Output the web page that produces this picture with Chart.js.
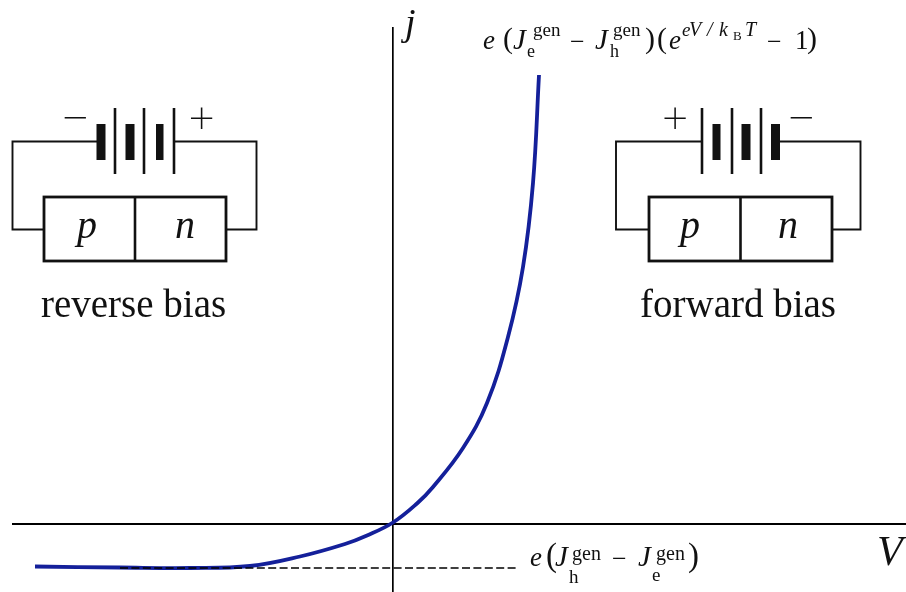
<!DOCTYPE html>
<html>
<head>
<meta charset="utf-8">
<style>html,body{margin:0;padding:0;background:#fff;overflow:hidden}canvas{display:block}</style>
<script src="https://cdn.jsdelivr.net/npm/chart.js@4"></script>
</head>
<body>
<canvas id="c" width="906" height="592"></canvas>
<script>
const curveV = [-3.58,-2.73,-2.03,-1.43,-0.93,-0.48,-0.26,0,0.24,0.40,0.70,0.94,1.15,1.30,1.40,1.46];
const curveJ = [-0.425,-0.435,-0.44,-0.42,-0.325,-0.20,-0.115,0.015,0.205,0.37,0.76,1.21,1.87,2.57,3.41,4.49];
const satV = [-2.73,1.25];
const satJ = [-0.44,-0.44];
const xRange = [-3.80,5.13];
const yRange = [-0.68,4.96];

const SERIF='"Liberation Serif"';
const diagram = {
  id:'diagram',
  afterDatasetsDraw(chart){
    const g=chart.ctx;
    g.save();
    g.fillStyle='#111'; g.strokeStyle='#111'; g.textBaseline='alphabetic'; g.textAlign='left';
    const T=(s,x,y,size,it)=>{g.font=(it?'italic ':'')+size+'px '+SERIF;g.fillText(s,x,y);};
    const L=(pts,w)=>{g.lineWidth=w;g.beginPath();pts.forEach((p,i)=>i?g.lineTo(p[0],p[1]):g.moveTo(p[0],p[1]));g.stroke();};
    const R=(x0,x1)=>g.fillRect(x0,124,x1-x0,36);
    const light=(s,cx,y)=>{g.font='200 46px "Noto Sans"';g.textAlign='center';g.fillText(s,cx,y);g.textAlign='left';};

    // reverse-bias diagram
    L([[97,141.5],[12.5,141.5],[12.5,229.5],[44,229.5]],1.9);
    L([[175,141.5],[256.5,141.5],[256.5,229.5],[226,229.5]],1.9);
    [115,144,174].forEach(x=>L([[x,108],[x,174]],2.6));
    R(96.5,105.5);R(125.5,134.5);R(156,163.5);
    g.lineWidth=2.8;g.strokeRect(44,197,182,64);L([[135,197],[135,261]],2.6);
    T('p',77,238,40,true);T('n',175,238,40,true);
    light('\u2212',75,134);light('+',201.5,135);
    T('reverse bias',41,317,39,false);

    // forward-bias diagram
    L([[702,141.5],[616,141.5],[616,229.5],[649,229.5]],1.9);
    L([[780,141.5],[860.5,141.5],[860.5,229.5],[832,229.5]],1.9);
    [702,732,761].forEach(x=>L([[x,108],[x,174]],2.6));
    R(712.5,720.5);R(741.5,750.5);R(771,780);
    g.lineWidth=2.8;g.strokeRect(649,197,183,64);L([[740.5,197],[740.5,261]],2.6);
    T('p',680,238,40,true);T('n',778,238,40,true);
    light('+',675,135);light('\u2212',801,134);
    T('forward bias',640,317,39,false);

    // axis names
    T('j',405,35,38,true);
    T('V',877,565,42,true);

    // top formula
    T('e',483,49,27,true);T('(',503,48,30);T('J',513,49,29,true);
    T('gen',533,36,19);T('e',527,57,18);
    T('\u2212',570,50,26);
    T('J',595,49,29,true);T('gen',613,36,19);T('h',610,57,18);
    T(')',645,48,30);T('(',657,48,30);T('e',669,49,27,true);
    T('e',682,36,19,true);T('V',689,36,20,true);T('/',707,36,20,true);T('k',719,36,20,true);
    T('B',733,40,13);T('T',745,36,20,true);
    T('\u2212',767,50,26);T('1',795,49,27);T(')',807,48,30);

    // bottom formula
    T('e',530,566,27,true);T('(',546,566,33);T('J',555,566,29,true);
    T('gen',572,560,20);T('h',569,583,19);
    T('\u2212',612,567,26);
    T('J',638,566,29,true);T('gen',656,560,20);T('e',652,581,19);
    T(')',688,566,33);
    g.restore();
  }
};

new Chart(document.getElementById('c'),{
  type:'scatter',
  data:{datasets:[
    {label:'saturation',data:satV.map((v,i)=>({x:v,y:satJ[i]})),showLine:true,borderColor:'#000',borderWidth:1.6,borderDash:[8,3.4],pointRadius:0},
    {label:'j(V)',data:curveV.map((v,i)=>({x:v,y:curveJ[i]})),showLine:true,borderColor:'#14209a',borderWidth:3.8,pointRadius:0,tension:0.4}
  ]},
  options:{
    responsive:false,animation:false,devicePixelRatio:1,
    layout:{padding:{left:13,top:28,right:0,bottom:0}},
    plugins:{legend:{display:false},title:{display:false},tooltip:{enabled:false}},
    scales:{
      x:{type:'linear',min:xRange[0],max:xRange[1],position:{y:0},grid:{display:false},ticks:{display:false},border:{color:'#000',width:2}},
      y:{type:'linear',min:yRange[0],max:yRange[1],position:{x:0},grid:{display:false},ticks:{display:false},border:{color:'#000',width:1.7}}
    }
  },
  plugins:[diagram]
});
</script>
</body>
</html>
